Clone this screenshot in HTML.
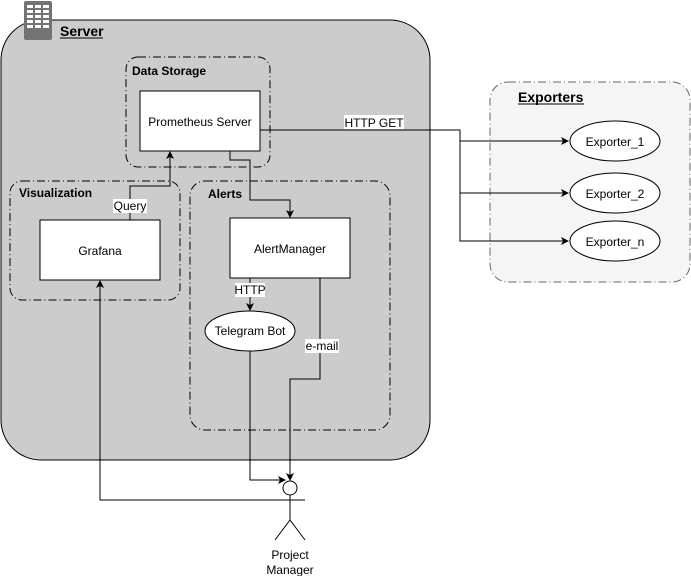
<!DOCTYPE html>
<html><head><meta charset="utf-8"><style>
html,body{margin:0;padding:0;background:#fff;}
svg{display:block;font-family:"Liberation Sans",Arial,sans-serif;}
</style></head><body>
<svg width="691" height="576" viewBox="0 0 691 576" xmlns="http://www.w3.org/2000/svg">
<defs>
<marker id="a" markerWidth="8" markerHeight="8" refX="7" refY="4" orient="auto" markerUnits="userSpaceOnUse">
<path d="M0,0 L8,4 L0,8 L2,4 Z" fill="#000"/>
</marker>
</defs>
<rect x="1" y="20" width="429" height="440" rx="40" ry="40" fill="#cccccc" stroke="#000" stroke-width="1"/>
<rect x="24" y="1" width="28" height="39" rx="2" fill="#737373"/>
<g fill="#fff">
<rect x="27" y="5" width="6" height="3"/><rect x="35" y="5" width="6" height="3"/><rect x="43" y="5" width="6" height="3"/>
<rect x="27" y="10" width="6" height="3"/><rect x="35" y="10" width="6" height="3"/><rect x="43" y="10" width="6" height="3"/>
<rect x="27" y="15" width="6" height="3"/><rect x="35" y="15" width="6" height="3"/><rect x="43" y="15" width="6" height="3"/>
<rect x="27" y="20" width="6" height="3"/><rect x="35" y="20" width="6" height="3"/><rect x="43" y="20" width="6" height="3"/>
<rect x="27" y="25" width="6" height="3"/><rect x="35" y="25" width="6" height="3"/><rect x="43" y="25" width="6" height="3"/>
</g>
<text x="60" y="36" font-size="14" font-weight="bold">Server</text>
<line x1="60" y1="38" x2="103" y2="38" stroke="#000"/>

<rect x="126" y="57" width="144" height="110" rx="12" fill="none" stroke="#000" stroke-dasharray="8,3,1,3"/>
<text x="132" y="75" font-size="12" font-weight="bold">Data Storage</text>
<rect x="140" y="91" width="120" height="60" fill="#fff" stroke="#000"/>
<text x="200" y="126" font-size="12" text-anchor="middle">Prometheus Server</text>

<rect x="10" y="181" width="170" height="119" rx="12" fill="none" stroke="#000" stroke-dasharray="8,3,1,3"/>
<text x="19" y="197" font-size="12" font-weight="bold">Visualization</text>
<rect x="40" y="220" width="120" height="60" fill="#fff" stroke="#000"/>
<text x="100" y="255" font-size="12" text-anchor="middle">Grafana</text>

<rect x="190" y="181" width="200" height="249" rx="15" fill="none" stroke="#000" stroke-dasharray="8,3,1,3"/>
<text x="208" y="198" font-size="12" font-weight="bold">Alerts</text>
<rect x="230" y="218" width="120" height="60" fill="#fff" stroke="#000"/>
<text x="290" y="253" font-size="12" text-anchor="middle">AlertManager</text>
<ellipse cx="250" cy="331" rx="45" ry="20" fill="#fff" stroke="#000"/>
<text x="250" y="335" font-size="12" text-anchor="middle">Telegram Bot</text>

<rect x="490" y="82" width="200" height="200" rx="18" fill="#f5f5f5" stroke="#666" stroke-dasharray="8,3,1,3"/>
<text x="518" y="102" font-size="14" font-weight="bold">Exporters</text>
<line x1="518" y1="104" x2="584" y2="104" stroke="#000"/>
<ellipse cx="615" cy="141" rx="45" ry="20" fill="#fff" stroke="#000"/>
<text x="615" y="146" font-size="12" text-anchor="middle">Exporter_1</text>
<ellipse cx="615" cy="193" rx="45" ry="20" fill="#fff" stroke="#000"/>
<text x="615" y="198" font-size="12" text-anchor="middle">Exporter_2</text>
<ellipse cx="615" cy="241" rx="45" ry="20" fill="#fff" stroke="#000"/>
<text x="615" y="246" font-size="12" text-anchor="middle">Exporter_n</text>

<g fill="none" stroke="#000" stroke-width="1">
<polyline points="260,130 460,130 460,141 568,141" marker-end="url(#a)"/>
<polyline points="460,141 460,193 568,193" marker-end="url(#a)"/>
<polyline points="460,193 460,241 568,241" marker-end="url(#a)"/>
<polyline points="230,151 230,160 250,160 250,200 290,200 290,217" marker-end="url(#a)"/>
<polyline points="130,220 130,186 170,186 170,152" marker-end="url(#a)"/>
<polyline points="250,278 250,310" marker-end="url(#a)"/>
<polyline points="320,278 320,379 290,379 290,480" marker-end="url(#a)"/>
<polyline points="250,351 250,480 285,480" marker-end="url(#a)"/>
<polyline points="305,500 100,500 100,281" marker-end="url(#a)"/>
</g>
<rect x="344" y="115" width="60" height="14" fill="#fff"/>
<text x="374" y="127" font-size="12" text-anchor="middle">HTTP GET</text>
<rect x="113" y="199" width="34" height="14" fill="#fff"/>
<text x="130" y="210" font-size="12" text-anchor="middle">Query</text>
<rect x="235" y="283" width="30" height="14" fill="#fff"/>
<text x="250" y="294" font-size="12" text-anchor="middle">HTTP</text>
<rect x="305" y="339" width="34" height="14" fill="#fff"/>
<text x="322" y="350" font-size="12" text-anchor="middle">e-mail</text>

<circle cx="290" cy="488" r="7" fill="#fff" stroke="#000"/>
<g stroke="#000" fill="none">
<line x1="290" y1="495" x2="290" y2="520"/>
<polyline points="275,540 290,520 305,540"/>
</g>
<text x="290" y="559" font-size="12" text-anchor="middle">Project</text>
<text x="290" y="574" font-size="12" text-anchor="middle">Manager</text>
</svg>
</body></html>
